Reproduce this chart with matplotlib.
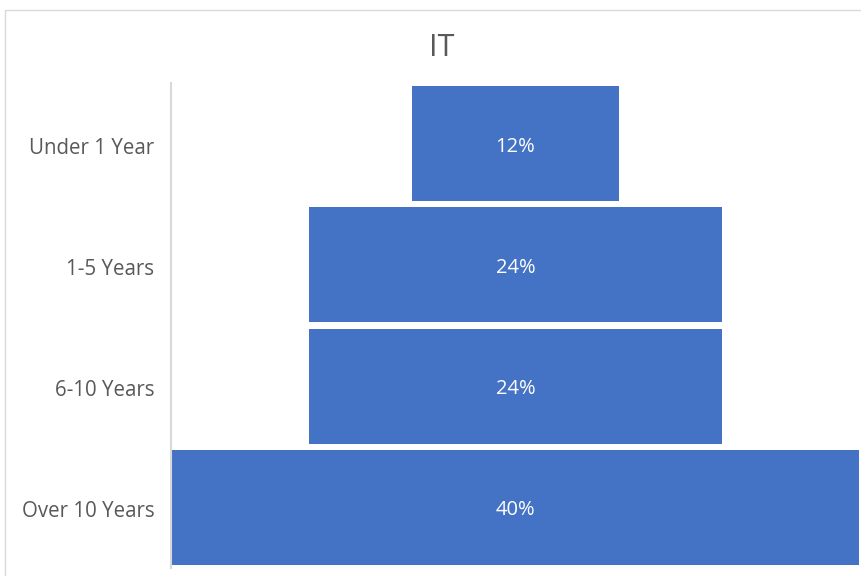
import matplotlib.pyplot as plt
from matplotlib.patches import Rectangle
from matplotlib.transforms import ScaledTranslation

plt.rcParams['font.family'] = ['Open Sans', 'DejaVu Sans']

stages = ['Under 1 Year', '1-5 Years', '6-10 Years', 'Over 10 Years']
shares = [12, 24, 24, 40]

bar_color = '#4472C4'
text_gray = '#595959'

fig = plt.figure(figsize=(8.62, 5.76), dpi=100)
ax = fig.add_axes([171 / 862, 1 - 568 / 576, 689 / 862, 485 / 576])

# funnel: each bar centered on zero
y = list(range(len(stages)))
left = [-v / 2 for v in shares]
ax.barh(y, shares, left=left, height=0.95, color=bar_color)
for yi, v in zip(y, shares):
    ax.text(0, yi + 0.025, f'{v}%', ha='center', va='center', color='white', fontsize=14.5)

ax.set_xlim(-20.03, 20.03)
ax.set_ylim(len(stages) - 0.5, -0.5)
ax.set_yticks(y)
ax.set_yticklabels(stages, color=text_gray, fontsize=14.8)
ax.tick_params(axis='y', length=0, pad=12)
# nudge category labels down a touch
shift = ScaledTranslation(0, -2 / 100, fig.dpi_scale_trans)
for lbl in ax.get_yticklabels():
    lbl.set_transform(lbl.get_transform() + shift)
ax.set_xticks([])
for side in ['top', 'right', 'bottom']:
    ax.spines[side].set_visible(False)
ax.spines['left'].set_color('#d9d9d9')
ax.spines['left'].set_linewidth(1.5)

fig.text(442 / 862, 1 - 48 / 576, 'IT', ha='center', va='center',
         color=text_gray, fontsize=22)

# light chart border
fig.patches.append(Rectangle((5 / 862, -0.1), 1.1, 1 - 10 / 576 + 0.1,
                             transform=fig.transFigure, fill=False,
                             edgecolor='#d9d9d9', linewidth=1))

fig.savefig('out.png', dpi=100)
